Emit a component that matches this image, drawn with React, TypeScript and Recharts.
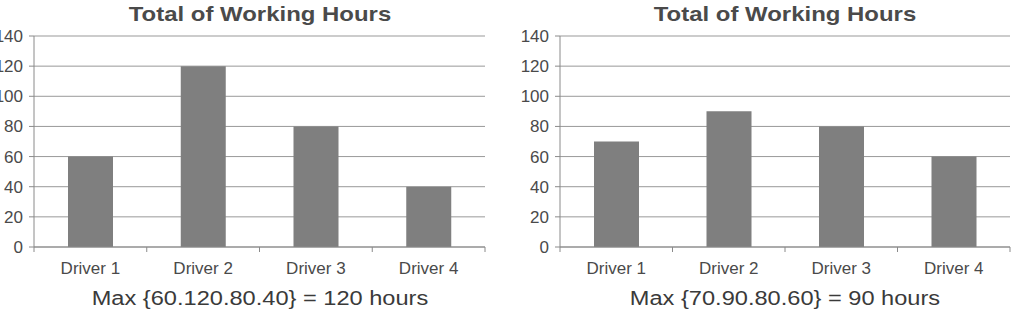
import React from 'react';
import { BarChart, Bar, XAxis, YAxis, CartesianGrid } from 'recharts';

const drivers = ['Driver 1', 'Driver 2', 'Driver 3', 'Driver 4'];
const hoursA = [60, 120, 80, 40];
const hoursB = [70, 90, 80, 60];
const yTicks = [0, 20, 40, 60, 80, 100, 120, 140];
const chartTitle = 'Total of Working Hours';
const captionA = 'Max {60.120.80.40} = 120 hours';
const captionB = 'Max {70.90.80.60} = 90 hours';

const font = '"Liberation Sans", Arial, sans-serif';
const axisColor = '#8a8a8a';
const textColor = '#4a4a4a';

const makeRows = (vals: number[]) => drivers.map((name, i) => ({ name, hours: vals[i] }));

function DriverTick(props: any) {
  const { x, y, payload, index } = props;
  const half = payload && payload.offset ? payload.offset : 451 / 8;
  const top = y - 15;
  return (
    <g>
      <line x1={x + half} y1={top} x2={x + half} y2={top + 5} stroke={axisColor} />
      {index === 0 && <line x1={x - half} y1={top} x2={x - half} y2={top + 5} stroke={axisColor} />}
      <text x={x} y={y} dy="0.71em" textAnchor="middle" fill={textColor} fontSize={17} fontFamily={font}>
        {payload.value}
      </text>
    </g>
  );
}

function HoursChart({ vals, left, width, caption }: { vals: number[]; left: number; width: number; caption: string }) {
  const plotLeft = left + 54;
  const plotRight = left + width - 5;
  const mid = (plotLeft + plotRight) / 2;
  return (
    <>
      <div
        style={{
          position: 'absolute', left: mid - 200, width: 400, top: 2, height: 24, lineHeight: '24px',
          textAlign: 'center', fontFamily: font, fontWeight: 'bold', fontSize: 21, color: textColor,
          transform: 'scaleX(1.14)',
        }}
      >
        {chartTitle}
      </div>
      <div style={{ position: 'absolute', left, top: 0 }}>
        <BarChart width={width} height={310} data={makeRows(vals)} margin={{ top: 36, right: 5, left: 0, bottom: 33 }}>
          <CartesianGrid vertical={false} stroke="#999" />
          <XAxis
            dataKey="name"
            stroke={axisColor}
            tickLine={false}
            tickSize={5}
            tickMargin={10}
            height={30}
            tick={<DriverTick />}
          />
          <YAxis
            width={54}
            domain={[0, 140]}
            ticks={yTicks}
            interval={0}
            stroke={axisColor}
            tickSize={5}
            tickMargin={6}
            tick={{ fill: textColor, fontSize: 17, fontFamily: font }}
          />
          <Bar dataKey="hours" fill="#7f7f7f" barSize={45} isAnimationActive={false} />
        </BarChart>
      </div>
      <div
        style={{
          position: 'absolute', left: mid - 250, width: 500, top: 286, height: 24, lineHeight: '24px',
          textAlign: 'center', fontFamily: font, fontSize: 20, color: '#3a3a3a',
          transform: 'scaleX(1.18)',
        }}
      >
        {caption}
      </div>
    </>
  );
}

export default function App() {
  return (
    <div
      style={{
        position: 'absolute', left: 0, top: 0, width: 1015, height: 310,
        overflow: 'hidden', background: '#fff',
      }}
    >
      <HoursChart vals={hoursA} left={-20} width={510} caption={captionA} />
      <HoursChart vals={hoursB} left={506} width={509} caption={captionB} />
    </div>
  );
}
